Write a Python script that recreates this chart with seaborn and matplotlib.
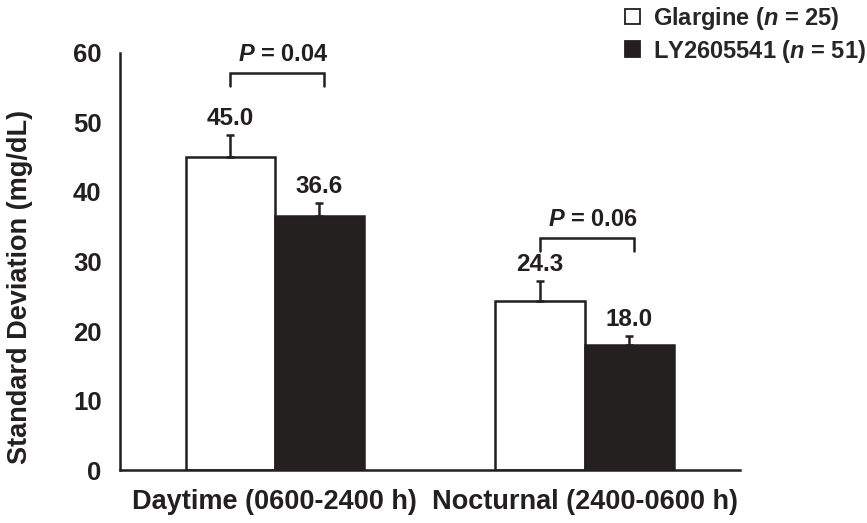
import matplotlib
matplotlib.use("Agg")
import matplotlib.pyplot as plt
import seaborn as sns
import pandas as pd
from matplotlib.patches import Patch

categories = ["Daytime (0600-2400 h)", "Nocturnal (2400-0600 h)"]
groups = ["Glargine", "LY2605541"]
glargine_vals = [45.0, 24.3]
ly_vals = [36.6, 18.0]
glargine_err = [3.2, 2.9]
ly_err = [1.8, 1.3]
p_labels = ["0.04", "0.06"]
bracket_tops = [57.1, 33.4]
legend_labels = ["Glargine ($n$ = 25)", "LY2605541 ($n$ = 51)"]

sns.set_theme(style="white")
plt.rcParams["font.family"] = ["Liberation Sans", "DejaVu Sans"]
plt.rcParams["font.weight"] = "bold"
plt.rcParams["mathtext.fontset"] = "custom"
plt.rcParams["mathtext.rm"] = "Liberation Sans:bold"
plt.rcParams["mathtext.it"] = "Liberation Sans:bold:italic"
plt.rcParams["mathtext.bf"] = "Liberation Sans:bold"

dark = "#231f20"
lw = 1.8
df = pd.DataFrame({
    "category": categories * 2,
    "group": [groups[0]] * 2 + [groups[1]] * 2,
    "value": glargine_vals + ly_vals,
})

fig = plt.figure(figsize=(8.67, 5.23), dpi=100)
ax = fig.add_axes([0.138, 0.1013, 0.715, 0.7974])
sns.barplot(data=df, x="category", y="value", hue="group", hue_order=groups,
            palette={groups[0]: "white", groups[1]: dark}, edgecolor=dark,
            linewidth=lw, width=0.575, errorbar=None, legend=False, ax=ax)

vals = [glargine_vals, ly_vals]
errs = [glargine_err, ly_err]
bar_conts = list(ax.containers)
centers = []
for gi, cont in enumerate(bar_conts):
    cs = []
    for ci, bar in enumerate(cont.patches):
        x = bar.get_x() + bar.get_width() / 2
        cs.append(x)
        v = vals[gi][ci]
        e = errs[gi][ci]
        ax.errorbar([x], [v], yerr=[[0], [e]], fmt="none", ecolor=dark,
                    elinewidth=lw, capsize=3, capthick=lw)
        ax.text(x, v + e + 0.7, f"{v:.1f}", ha="center", va="bottom",
                fontsize=17.5, fontweight="bold", color=dark)
    centers.append(cs)

for ci in range(len(categories)):
    x1 = centers[0][ci]
    x2 = centers[1][ci] + 0.015
    top = bracket_tops[ci]
    ax.plot([x1, x1, x2, x2], [top - 1.9, top, top, top - 1.9], color=dark,
            lw=lw, clip_on=False, solid_joinstyle="miter")
    ax.text((x1 + x2) / 2 + 0.02, top + 1.0, f"$P$ = {p_labels[ci]}",
            ha="center", va="bottom", fontsize=17, fontweight="bold",
            color=dark, clip_on=False)

ax.set_xlim(-0.5, 1.5)
ax.set_ylim(0, 60)
ax.set_yticks(range(0, 61, 10))
ax.set_xticks([-0.5, 0.5, 1.5])
ax.set_xticklabels([])
ax.set_xticks([0, 1], minor=True)
ax.set_xticklabels(categories, minor=True, fontsize=19.5, fontweight="bold", color=dark)
ax.tick_params(axis="x", which="major", direction="out", length=6, width=lw, color=dark)
ax.tick_params(axis="x", which="minor", length=0, pad=14)
ax.tick_params(axis="y", direction="inout", length=10, width=lw, color=dark,
               labelsize=18.5, labelcolor=dark, pad=8)
for lab in ax.get_yticklabels():
    lab.set_fontweight("bold")
ax.set_xlabel("")
ax.set_ylabel("Standard Deviation (mg/dL)", fontsize=19.5, fontweight="bold",
              color=dark)
ax.yaxis.set_label_coords(-0.14, 0.439)
for s in ["top", "right"]:
    ax.spines[s].set_visible(False)
for s in ["left", "bottom"]:
    ax.spines[s].set_color(dark)
    ax.spines[s].set_linewidth(lw)

handles = [Patch(facecolor="white", edgecolor=dark, linewidth=1.3),
           Patch(facecolor=dark, edgecolor=dark, linewidth=1.3)]
fig.legend(handles, legend_labels, loc="upper left", bbox_to_anchor=(0.715, 1.0),
           frameon=False, fontsize=17, handlelength=0.65, handleheight=0.65,
           handletextpad=0.55, labelspacing=0.25, borderaxespad=0.0,
           borderpad=0.2)

fig.savefig("out.png", dpi=100)
